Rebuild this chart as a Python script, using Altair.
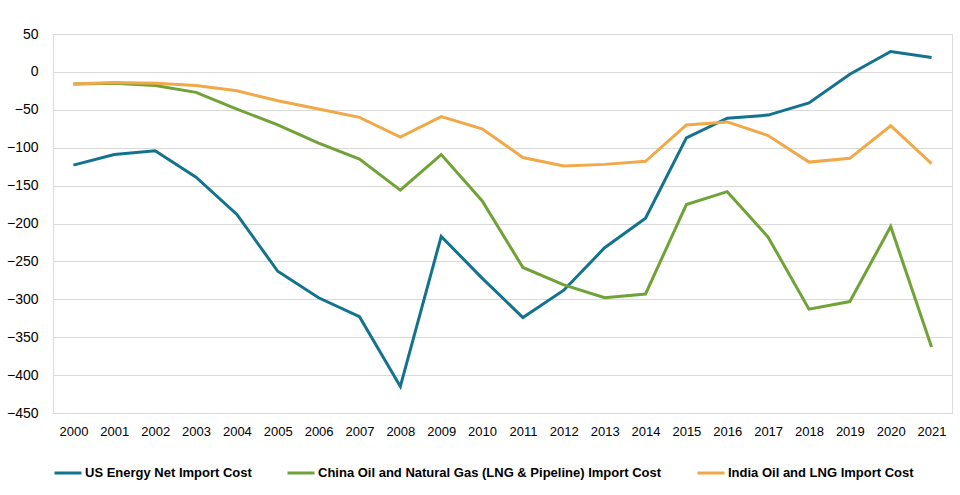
import altair as alt
import pandas as pd

years = [str(y) for y in range(2000, 2022)]

us = [-123, -109, -104, -139, -188, -263, -298, -323, -415, -217, -272,
      -324, -288, -232, -193, -87, -61, -57, -41, -3, 27, 19]
china = [-16, -15, -18, -27, -49, -70, -94, -115, -156, -109, -170,
         -258, -281, -298, -293, -175, -158, -218, -313, -303, -204, -363]
india = [-16, -14, -15, -18, -25, -38, -49, -60, -86, -59, -75,
         -113, -124, -122, -118, -70, -66, -84, -119, -114, -71, -121]

series_names = [
    "US Energy Net Import Cost",
    "China Oil and Natural Gas (LNG & Pipeline) Import Cost",
    "India Oil and LNG Import Cost",
]
colors = ["#13738F", "#70A337", "#F0A848"]

rows = []
for name, vals in zip(series_names, [us, china, india]):
    for y, v in zip(years, vals):
        rows.append({"Year": y, "Value": v, "Series": name})
df = pd.DataFrame(rows)

FONT = "Liberation Sans, Arial, sans-serif"

chart = alt.Chart(df).mark_line(strokeWidth=3).encode(
    x=alt.X("Year:O", sort=years,
            scale=alt.Scale(type="point", padding=0.5),
            axis=alt.Axis(title=None, labelAngle=0, ticks=False, domain=False,
                          grid=False, labelFont=FONT, labelFontSize=13,
                          labelColor="#000000", labelPadding=12)),
    y=alt.Y("Value:Q",
            scale=alt.Scale(domain=[-450, 50], nice=False, zero=False),
            axis=alt.Axis(title=None, values=list(range(-450, 51, 50)),
                          ticks=False, domain=False, grid=True,
                          gridColor="#D9D9D9", gridWidth=1,
                          labelFont=FONT, labelFontSize=14,
                          labelColor="#000000", labelPadding=15)),
    color=alt.Color("Series:N", sort=series_names,
                    scale=alt.Scale(domain=series_names, range=colors),
                    legend=alt.Legend(title=None, orient="none",
                                      direction="horizontal",
                                      legendX=0, legendY=424,
                                      symbolType="stroke", symbolSize=729,
                                      symbolStrokeWidth=3,
                                      labelFont=FONT, labelFontSize=13,
                                      labelFontWeight="bold",
                                      labelColor="#000000",
                                      labelOffset=2, columnPadding=29,
                                      padding=0, labelLimit=0)),
).properties(
    width=899, height=379,
    autosize=alt.AutoSizeParams(type="none"),
    padding={"left": 53, "top": 34, "right": 8, "bottom": 82},
).configure_view(stroke=None).configure(background="white")

chart.save("out.html", embed_options={"renderer": "svg", "actions": False})
